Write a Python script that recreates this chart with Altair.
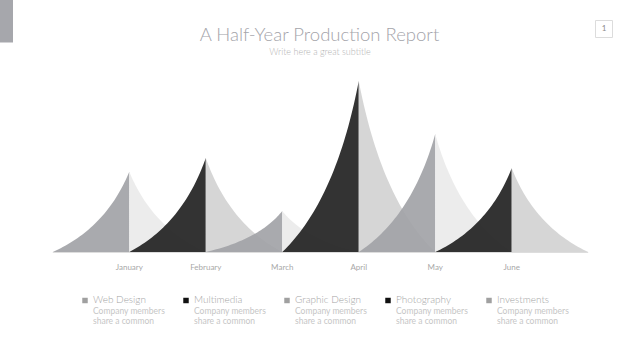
import altair as alt
import pandas as pd

# ---- data ----
months = ["January", "February", "March", "April", "May", "June"]
values = [47, 55, 24, 100, 69, 49]
legend_names = ["Web Design", "Multimedia", "Graphic Design", "Photography", "Investments"]
legend_tones = ["gray", "dark", "gray", "dark", "gray"]
legend_line1 = ["Company members"] * 5
legend_line2 = ["share a common"] * 5
title_text = "A Half-Year Production Report"
subtitle_text = "Write here a great subtitle"
page_no = "1"

FONT = "Lato"

df = pd.DataFrame({"month": months, "value": values, "idx": list(range(len(months)))})
leg = pd.DataFrame({"name": legend_names, "tone": legend_tones,
                    "l1": legend_line1, "l2": legend_line2,
                    "i": list(range(len(legend_names)))})
one = pd.DataFrame({"a": [0]})

xscale = alt.Scale(domain=[-1, 6], range=[52.8, 588.2])
yscale = alt.Scale(domain=[0, 100], range=[252, 81])

shade_scale = alt.Scale(domain=["gL", "gR", "dL", "dR"],
                        range=["#a2a3a7", "#eaeaea", "#222222", "#d2d2d2"])

spikes = alt.Chart(df).transform_calculate(
    k="sequence(0, 41)", sides="['L','R']"
).transform_flatten(["k"]).transform_flatten(["sides"], as_=["side"]).transform_calculate(
    t="datum.k / 40"
).transform_calculate(
    u="2*datum.t*(1-datum.t)*0.7 + datum.t*datum.t",
    v="2*datum.t*(1-datum.t)*0.3 + datum.t*datum.t",
).transform_calculate(
    xpos="datum.side == 'L' ? datum.idx - 1 + datum.u : datum.idx + 1 - datum.u",
    ypos="datum.value * datum.v",
    shade="(datum.idx % 2 == 0 ? 'g' : 'd') + datum.side",
    grp="datum.idx * 2 + (datum.side == 'L' ? 0 : 1)",
).mark_area(opacity=0.92).encode(
    x=alt.X("xpos:Q", scale=xscale, axis=None),
    y=alt.Y("ypos:Q", scale=yscale, axis=None, stack=None),
    color=alt.Color("shade:N", scale=shade_scale, legend=None),
    detail="grp:Q",
)

baseline = alt.Chart(one).mark_rule(color="#dddddd", strokeWidth=1).encode(
    x=alt.value(52.8), x2=alt.value(588.2), y=alt.value(252.5)
)

month_labels = alt.Chart(df).mark_text(
    font=FONT, fontSize=8, color="#a8a8a8", baseline="middle"
).encode(
    x=alt.X("idx:Q", scale=xscale, axis=None),
    y=alt.value(268),
    text="month:N",
)

leg_base = alt.Chart(leg).transform_calculate(px="85 + 101 * datum.i")

leg_sq = leg_base.transform_calculate(
    sqcol="datum.tone == 'dark' ? '#111111' : '#a0a0a0'"
).mark_square(size=30, opacity=1).encode(
    x=alt.X("px:Q", scale=None),
    y=alt.value(300.5),
    color=alt.Color("sqcol:N", scale=None, legend=None),
)
leg_name = leg_base.transform_calculate(tx="datum.px + 8").mark_text(
    font=FONT, fontSize=10, fontWeight=300, color="#a4a4a4", align="left", baseline="alphabetic"
).encode(x=alt.X("tx:Q", scale=None), y=alt.value(302.5), text="name:N")
leg_l1 = leg_base.transform_calculate(tx="datum.px + 8").mark_text(
    font=FONT, fontSize=8.5, color="#c6c6c6", align="left", baseline="alphabetic"
).encode(x=alt.X("tx:Q", scale=None), y=alt.value(313.5), text="l1:N")
leg_l2 = leg_base.transform_calculate(tx="datum.px + 8").mark_text(
    font=FONT, fontSize=8.5, color="#c6c6c6", align="left", baseline="alphabetic"
).encode(x=alt.X("tx:Q", scale=None), y=alt.value(323.5), text="l2:N")

title = alt.Chart(one).mark_text(
    font=FONT, fontSize=18.5, fontWeight=300, color="#a4a4aa", align="center", baseline="middle"
).encode(x=alt.value(319.5), y=alt.value(35), text=alt.value(title_text))
subtitle = alt.Chart(one).mark_text(
    font=FONT, fontSize=9, fontWeight=300, color="#b4b4b4", align="center", baseline="middle"
).encode(x=alt.value(320), y=alt.value(51.5), text=alt.value(subtitle_text))

corner = alt.Chart(one).mark_rect(color="#a6a7ac").encode(
    x=alt.value(0), x2=alt.value(13), y=alt.value(0), y2=alt.value(42.5)
)
page_box = alt.Chart(one).mark_rect(fill="white", stroke="#dcdcdc", strokeWidth=1).encode(
    x=alt.value(595.5), x2=alt.value(612.5), y=alt.value(20.5), y2=alt.value(37.5)
)
page_txt = alt.Chart(one).mark_text(
    font=FONT, fontSize=8, color="#8a8a8a", align="center", baseline="middle"
).encode(x=alt.value(604), y=alt.value(29), text=alt.value(page_no))

chart = alt.layer(
    corner, page_box, page_txt, title, subtitle, spikes, baseline, month_labels,
    leg_sq, leg_name, leg_l1, leg_l2
).properties(
    width=640, height=360,
    autosize=alt.AutoSizeParams(type="none"),
    padding=0,
    background="white",
).configure_view(stroke=None)

chart.save("out.html", embed_options={"renderer": "svg", "actions": False})
